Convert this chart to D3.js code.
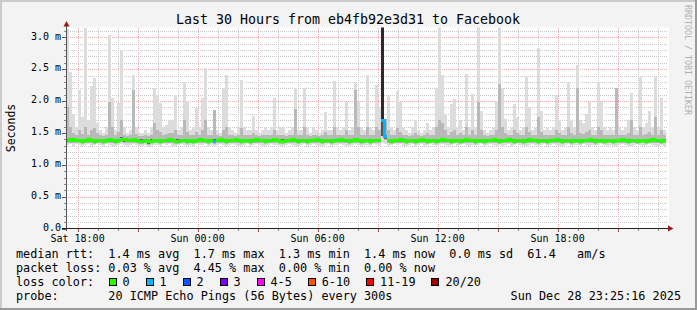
<!DOCTYPE html>
<html>
<head>
<meta charset="utf-8">
<script src="https://cdn.jsdelivr.net/npm/d3@7"></script>
<style>
body { margin: 0; background: #f3f3f3; }
text { font-family: "DejaVu Sans Mono", monospace; }
</style>
</head>
<body>
<script>
// ---------------- data ----------------
var titleText = "Last 30 Hours from eb4fb92e3d31 to Facebook";
var yLabel = "Seconds";
var yTicks = [0, 0.5, 1.0, 1.5, 2.0, 2.5, 3.0];   // ms
var endTime = Date.UTC(2025, 11, 28, 23, 25, 16);
var hoursShown = 30;

// one value per 9 minute column (200 columns), milliseconds
var smokeMax = [
  3.13,2.46,1.80,1.60,2.17,1.75,3.14,1.70,2.23,2.36,
  1.65,1.55,1.50,1.60,3.03,2.05,1.55,1.97,2.80,1.60,
  1.50,1.55,2.41,1.60,1.50,1.50,1.55,1.50,1.60,2.20,
  2.10,1.97,1.60,1.62,1.68,1.70,2.09,1.55,1.60,2.30,
  2.00,1.55,1.60,1.89,1.60,2.05,2.52,1.60,1.55,1.86,
  1.55,1.50,2.20,2.41,1.60,1.55,1.50,1.60,2.33,1.60,
  1.55,1.55,1.77,1.55,1.50,1.55,1.60,1.55,1.60,2.05,
  1.55,1.60,1.60,1.50,1.55,1.60,2.20,1.55,1.55,2.20,
  1.60,1.50,1.60,1.55,1.50,1.55,1.83,1.55,1.55,2.31,
  1.60,1.55,1.60,1.99,1.55,1.60,2.28,2.00,1.60,1.55,
  2.41,1.60,1.55,2.25,1.90,3.20,1.72,2.09,1.60,1.55,
  2.16,1.99,1.60,1.55,1.50,1.60,1.70,1.55,1.50,1.55,
  1.65,1.55,1.60,2.20,3.20,2.41,1.80,1.60,1.95,2.03,
  1.60,1.70,1.55,2.42,1.60,2.11,1.60,3.20,1.85,1.55,
  1.50,1.55,1.60,2.00,3.20,2.20,1.72,1.55,1.60,1.95,
  1.75,1.55,1.60,2.38,1.90,1.55,1.60,2.83,1.85,1.55,
  1.60,1.55,1.60,2.09,1.70,1.55,1.60,2.28,1.70,1.60,
  2.57,1.70,1.65,1.80,1.98,1.60,1.55,2.30,1.99,1.60,
  1.55,1.60,1.55,2.20,1.60,1.55,1.60,1.70,2.12,1.60,
  1.55,2.38,1.60,1.65,1.85,1.60,2.38,1.60,2.05,1.55
];
var smokeUpper = [
  1.90,1.60,1.50,1.47,1.55,1.48,1.60,1.47,1.55,1.58,
  1.50,1.46,1.45,1.47,1.99,1.60,1.46,1.52,1.70,1.47,
  1.45,1.46,2.17,1.48,1.45,1.45,1.46,1.45,1.47,1.65,
  1.55,1.52,1.47,1.48,1.50,1.50,1.55,1.46,1.47,1.70,
  1.52,1.46,1.47,1.52,1.47,1.55,1.70,1.47,1.46,1.86,
  1.46,1.45,1.55,1.60,1.47,1.46,1.45,1.47,1.58,1.47,
  1.46,1.46,1.50,1.46,1.45,1.46,1.47,1.46,1.47,1.55,
  1.46,1.47,1.47,1.45,1.46,1.47,1.87,1.46,1.46,1.60,
  1.47,1.45,1.47,1.46,1.45,1.46,1.52,1.46,1.46,1.60,
  1.47,1.46,1.47,1.55,1.46,1.47,2.18,1.60,1.47,1.46,
  1.60,1.47,1.46,1.60,1.55,1.72,1.72,1.55,1.47,1.46,
  1.58,1.52,1.47,1.46,1.45,1.47,1.50,1.46,1.45,1.46,
  1.50,1.46,1.47,1.60,1.70,1.65,1.55,1.47,1.52,1.55,
  1.47,1.50,1.46,1.60,1.47,1.55,1.47,1.99,1.55,1.46,
  1.45,1.46,1.47,1.55,2.27,1.60,1.50,1.46,1.47,1.55,
  1.50,1.46,1.47,1.60,1.52,1.46,1.47,1.75,1.52,1.46,
  1.47,1.46,1.47,1.55,1.50,1.46,1.47,1.60,1.50,1.47,
  2.20,1.50,1.48,1.52,1.55,1.47,1.46,1.60,1.55,1.47,
  1.46,1.47,1.46,2.20,1.47,1.46,1.47,1.50,1.70,1.47,
  1.46,1.60,1.47,1.48,1.52,1.47,1.75,1.47,1.55,1.46
];
var smokeMin = [
  1.31,1.32,1.30,1.32,1.31,1.29,1.31,1.32,1.30,1.31,
  1.32,1.31,1.30,1.32,1.31,1.30,1.29,1.31,1.32,1.31,
  1.30,1.31,1.32,1.31,1.29,1.30,1.31,1.28,1.30,1.31,
  1.31,1.30,1.32,1.31,1.32,1.30,1.29,1.31,1.32,1.31,
  1.30,1.31,1.30,1.32,1.31,1.31,1.32,1.30,1.31,1.30,
  1.31,1.32,1.31,1.30,1.31,1.32,1.31,1.30,1.29,1.31,
  1.32,1.30,1.31,1.32,1.31,1.30,1.29,1.31,1.32,1.31,
  1.31,1.29,1.30,1.31,1.32,1.31,1.30,1.29,1.31,1.32,
  1.30,1.31,1.32,1.31,1.30,1.29,1.31,1.32,1.30,1.31,
  1.31,1.32,1.31,1.30,1.29,1.31,1.32,1.31,1.30,1.31,
  1.31,1.30,1.32,1.31,1.30,1.36,1.32,1.30,1.31,1.32,
  1.31,1.32,1.30,1.29,1.31,1.32,1.30,1.31,1.32,1.30,
  1.31,1.32,1.31,1.29,1.31,1.32,1.31,1.30,1.31,1.32,
  1.30,1.31,1.32,1.31,1.30,1.31,1.29,1.31,1.32,1.30,
  1.31,1.32,1.31,1.30,1.31,1.29,1.31,1.32,1.30,1.31,
  1.32,1.31,1.30,1.29,1.31,1.32,1.31,1.30,1.31,1.32,
  1.30,1.31,1.32,1.31,1.29,1.30,1.31,1.32,1.30,1.31,
  1.31,1.30,1.32,1.31,1.30,1.31,1.29,1.31,1.32,1.31,
  1.30,1.31,1.29,1.30,1.31,1.32,1.31,1.30,1.29,1.31,
  1.32,1.31,1.30,1.31,1.32,1.31,1.29,1.30,1.31,1.30
];
var medianRtt = [
  1.39,1.38,1.39,1.38,1.38,1.37,1.38,1.39,1.38,1.37,
  1.38,1.38,1.37,1.38,1.39,1.38,1.37,1.38,1.40,1.39,
  1.38,1.38,1.39,1.38,1.37,1.37,1.38,1.36,1.37,1.38,
  1.38,1.37,1.38,1.38,1.39,1.38,1.37,1.37,1.38,1.38,
  1.37,1.38,1.37,1.38,1.39,1.38,1.38,1.37,1.38,1.37,
  1.38,1.39,1.38,1.37,1.38,1.38,1.39,1.38,1.37,1.38,
  1.38,1.37,1.38,1.39,1.38,1.38,1.37,1.38,1.38,1.39,
  1.38,1.37,1.37,1.38,1.38,1.39,1.38,1.37,1.38,1.38,
  1.37,1.38,1.38,1.39,1.38,1.37,1.38,1.38,1.37,1.38,
  1.38,1.39,1.38,1.38,1.37,1.38,1.39,1.38,1.37,1.38,
  1.38,1.37,1.38,1.38,1.38,1.70,1.44,1.38,1.37,1.38,
  1.38,1.39,1.38,1.37,1.38,1.38,1.37,1.38,1.39,1.38,
  1.37,1.38,1.38,1.37,1.38,1.39,1.38,1.38,1.37,1.38,
  1.38,1.37,1.38,1.39,1.38,1.38,1.37,1.38,1.38,1.37,
  1.38,1.38,1.39,1.38,1.37,1.38,1.38,1.39,1.38,1.37,
  1.38,1.38,1.37,1.38,1.39,1.38,1.38,1.37,1.38,1.38,
  1.37,1.38,1.38,1.39,1.38,1.37,1.38,1.38,1.37,1.38,
  1.38,1.37,1.38,1.38,1.39,1.38,1.37,1.38,1.38,1.37,
  1.38,1.38,1.37,1.38,1.38,1.39,1.38,1.37,1.38,1.38,
  1.37,1.38,1.38,1.37,1.38,1.39,1.38,1.38,1.37,1.38
];
// columns with lost pings (others lost 0 of 20)
var lossAt = [49, 105, 106];
var lossCount = [1, 1, 1];
// columns where the dense core of the smoke reaches high
var denseAt = [105];
var denseTop = [3.20];

// legend
var rttValues = [1.4, 1.7, 1.3, 1.4, 0.0];
var rttNames = ["avg", "max", "min", "now", "sd"];
var amPerSec = "61.4";
var lossValues = [0.03, 4.45, 0.00, 0.00];
var lossNames = ["avg", "max", "min", "now"];
var lossLabels = ["0", "1", "2", "3", "4-5", "6-10", "11-19", "20/20"];
var lossColors = ["#26ff00", "#00b8ff", "#0059ff", "#7e00ff", "#ff00ff", "#ff5500", "#ff0000", "#a00000"];
var probeText = "20 ICMP Echo Pings (56 Bytes) every 300s";
var stampText = "Sun Dec 28 23:25:16 2025";

// ---------------- set up ----------------
var W = 697, H = 310;
var plot = {left: 66, right: 666, top: 28.5, bottom: 228.5};
var startTime = endTime - hoursShown * 3600 * 1000;
var nCols = medianRtt.length;
var stepMs = (endTime - startTime) / nCols;
function colTime(i) { return new Date(startTime + i * stepMs); }
function lossOf(i) {
    var k = lossAt.indexOf(i);
    return k >= 0 ? lossCount[k] : 0;
}

var x = d3.scaleUtc().domain([new Date(startTime), new Date(endTime)]).range([plot.left, plot.right]);
var y = d3.scaleLinear().domain([0, 200 / 63.75]).range([plot.bottom, plot.top]);

var svg = d3.select("body").append("svg")
    .attr("width", W).attr("height", H)
    .style("display", "block");

// background + frame
svg.append("rect").attr("width", W).attr("height", H).attr("fill", "#f3f3f3");
svg.append("rect").attr("x", 0).attr("y", 0).attr("width", W).attr("height", 2).attr("fill", "#cbcbcb");
svg.append("rect").attr("x", 0).attr("y", 0).attr("width", 2).attr("height", H).attr("fill", "#cbcbcb");
svg.append("rect").attr("x", 0).attr("y", H - 2).attr("width", W).attr("height", 2).attr("fill", "#999");
svg.append("rect").attr("x", W - 2).attr("y", 0).attr("width", 2).attr("height", H).attr("fill", "#999");

// canvas
svg.append("rect").attr("x", plot.left).attr("y", 27.5)
    .attr("width", 603).attr("height", plot.bottom - 27.5)
    .attr("fill", "#fff");

svg.append("clipPath").attr("id", "clip")
  .append("rect").attr("x", plot.left).attr("y", 27.5)
    .attr("width", 603).attr("height", plot.bottom - 27.5);

// ---------------- grid ----------------
var grid = svg.append("g").attr("shape-rendering", "crispEdges");
var hours = x.ticks(d3.utcHour.every(1));
hours.forEach(function(t) {
    var major = t.getUTCHours() % 3 === 0;
    var px = Math.round(x(t)) + 0.5;
    grid.append("line")
        .attr("x1", px).attr("x2", px).attr("y1", 27.5).attr("y2", plot.bottom)
        .attr("stroke", major ? "#f0a8a8" : "#c8c8c8")
        .attr("stroke-dasharray", "1,1");
});
d3.range(1, 32).forEach(function(k) {
    var v = k / 10;
    var major = k % 5 === 0;
    var py = Math.round(y(v)) + 0.5;
    grid.append("line")
        .attr("x1", plot.left).attr("x2", 668).attr("y1", py).attr("y2", py)
        .attr("stroke", major ? "#f0a8a8" : "#c8c8c8")
        .attr("stroke-dasharray", "1,1");
});

// ---------------- smoke ----------------
var g = svg.append("g").attr("clip-path", "url(#clip)").attr("shape-rendering", "crispEdges");
function band(i, lo, hi, color) {
    var x0 = Math.round(x(colTime(i))), x1 = Math.round(x(colTime(i + 1)));
    var y0 = y(hi), y1 = y(lo);
    g.append("rect")
        .attr("x", x0).attr("width", x1 - x0)
        .attr("y", y0).attr("height", Math.max(0, y1 - y0))
        .attr("fill", color);
}
d3.range(nCols).forEach(function(i) {
    band(i, smokeMin[i], smokeMax[i], "#dcdcdc");
    band(i, medianRtt[i] - 0.045, smokeUpper[i], "#b9b9b9");
    var k = denseAt.indexOf(i);
    if (k >= 0) {
        band(i, medianRtt[i] - 0.25, medianRtt[i], "#555");
        band(i, medianRtt[i], denseTop[k], "#2a2a2a");
    } else {
        band(i, medianRtt[i] - 0.03, medianRtt[i] + 0.03, "#6a6a6a");
    }
});

// ---------------- median line, one line per loss colour ----------------
var pts = d3.range(nCols).map(function(i) { return {t: colTime(i), v: medianRtt[i], i: i}; });
pts.push({t: colTime(nCols), v: medianRtt[nCols - 1], i: nCols - 1});
d3.range(lossColors.length).forEach(function(lc) {
    var used = pts.some(function(p) { return lossOf(p.i) === lc; });
    if (!used) return;
    var ln = d3.line()
        .defined(function(p) { return lossOf(p.i) === lc; })
        .x(function(p) { return x(p.t); })
        .y(function(p) { return y(p.v); })
        .curve(d3.curveStepAfter);
    // each column also needs its right edge, so pair it with the next point
    var seg = [];
    pts.forEach(function(p, j) {
        if (j < nCols) {
            seg.push(p);
            seg.push({t: colTime(p.i + 1), v: p.v, i: p.i});
        }
    });
    g.append("path")
        .attr("d", ln(seg))
        .attr("fill", "none")
        .attr("stroke", lossColors[lc])
        .attr("stroke-width", 3);
});

// ---------------- axes ----------------
var ax = svg.append("g").attr("shape-rendering", "crispEdges");
// y axis
ax.append("line").attr("x1", 66.5).attr("x2", 66.5).attr("y1", 231).attr("y2", 25)
    .attr("stroke", "#555");
yTicks.forEach(function(v) {
    var py = Math.round(y(v)) + 0.5;
    ax.append("line").attr("x1", 62).attr("x2", 66).attr("y1", py).attr("y2", py).attr("stroke", "#555");
});
d3.range(1, 32).forEach(function(k) {
    if (k % 5 === 0) return;
    var py = Math.round(y(k / 10)) + 0.5;
    ax.append("line").attr("x1", 64).attr("x2", 66).attr("y1", py).attr("y2", py).attr("stroke", "#888");
});
// x axis
ax.append("line").attr("x1", 62).attr("x2", 669).attr("y1", 228.5).attr("y2", 228.5)
    .attr("stroke", "#222");
hours.forEach(function(t) {
    var major = t.getUTCHours() % 3 === 0;
    var px = Math.round(x(t)) + 0.5;
    ax.append("line").attr("x1", px).attr("x2", px)
        .attr("y1", 229).attr("y2", major ? 232 : 230.5)
        .attr("stroke", major ? "#a05050" : "#888");
});
// arrows
svg.append("path").attr("d", "M63.5,26.5 L69.5,26.5 L66.5,21 Z").attr("fill", "#9a1a1a");
svg.append("path").attr("d", "M668,225.5 L668,231.5 L673.5,228.5 Z").attr("fill", "#9a1a1a");

// y tick labels
yTicks.forEach(function(v) {
    svg.append("text")
        .attr("x", 61).attr("y", y(v) + 2.3)
        .attr("text-anchor", "end")
        .style("font-size", "10px")
        .attr("fill", "#000")
        .text(v === 0 ? "0.0" : d3.format(".1f")(v) + " m");
});
// x tick labels
var fmt = d3.utcFormat("%a %H:%M");
hours.filter(function(t) { return t.getUTCHours() % 6 === 0; }).forEach(function(t) {
    svg.append("text")
        .attr("x", x(t)).attr("y", 241.5)
        .attr("text-anchor", "middle")
        .style("font-size", "10px")
        .text(fmt(t));
});

// y axis title
svg.append("text")
    .attr("transform", "translate(15,128) rotate(-90)")
    .attr("text-anchor", "middle")
    .style("font-size", "11.5px")
    .text(yLabel);

// title
svg.append("text")
    .attr("x", 348).attr("y", 24)
    .attr("text-anchor", "middle")
    .style("font-size", "13.3px")
    .text(titleText);

// watermark
svg.append("text")
    .attr("transform", "translate(684.5,5) rotate(90)")
    .style("font-size", "8.3px")
    .attr("fill", "#b0b0b0")
    .text("RRDTOOL / TOBI OETIKER");

// ---------------- legend ----------------
var legFont = 11.8, cw = legFont * 0.602, lx = 16;
function legRow(str, yy) {
    svg.append("text")
        .attr("x", lx).attr("y", yy)
        .attr("xml:space", "preserve")
        .style("white-space", "pre")
        .style("font-size", legFont + "px")
        .text(str);
}
var row1 = "median rtt:  " + rttValues.map(function(v, i) {
    return d3.format(".1f")(v) + " ms " + rttNames[i];
}).join("  ") + "  " + amPerSec + "   am/s";
legRow(row1, 257.5);
var row2 = "packet loss: " + lossValues.map(function(v, i) {
    return d3.format(".2f")(v) + " % " + lossNames[i];
}).join("  ");
legRow(row2, 271.5);
legRow("loss color:", 285.5);
var bx = 108.5;
lossLabels.forEach(function(lab, i) {
    svg.append("rect")
        .attr("x", bx + 0.5).attr("y", 278.5)
        .attr("width", 7).attr("height", 7)
        .attr("fill", lossColors[i])
        .attr("stroke", "#000")
        .attr("shape-rendering", "crispEdges");
    svg.append("text")
        .attr("x", bx + 14).attr("y", 285.5)
        .style("font-size", legFont + "px")
        .text(lab);
    bx += 29.9 + lab.length * cw;
});
legRow("probe:       " + probeText, 299.5);
svg.append("text")
    .attr("x", 681).attr("y", 299.5)
    .attr("text-anchor", "end")
    .style("font-size", legFont + "px")
    .text(stampText);
</script>
</body>
</html>
